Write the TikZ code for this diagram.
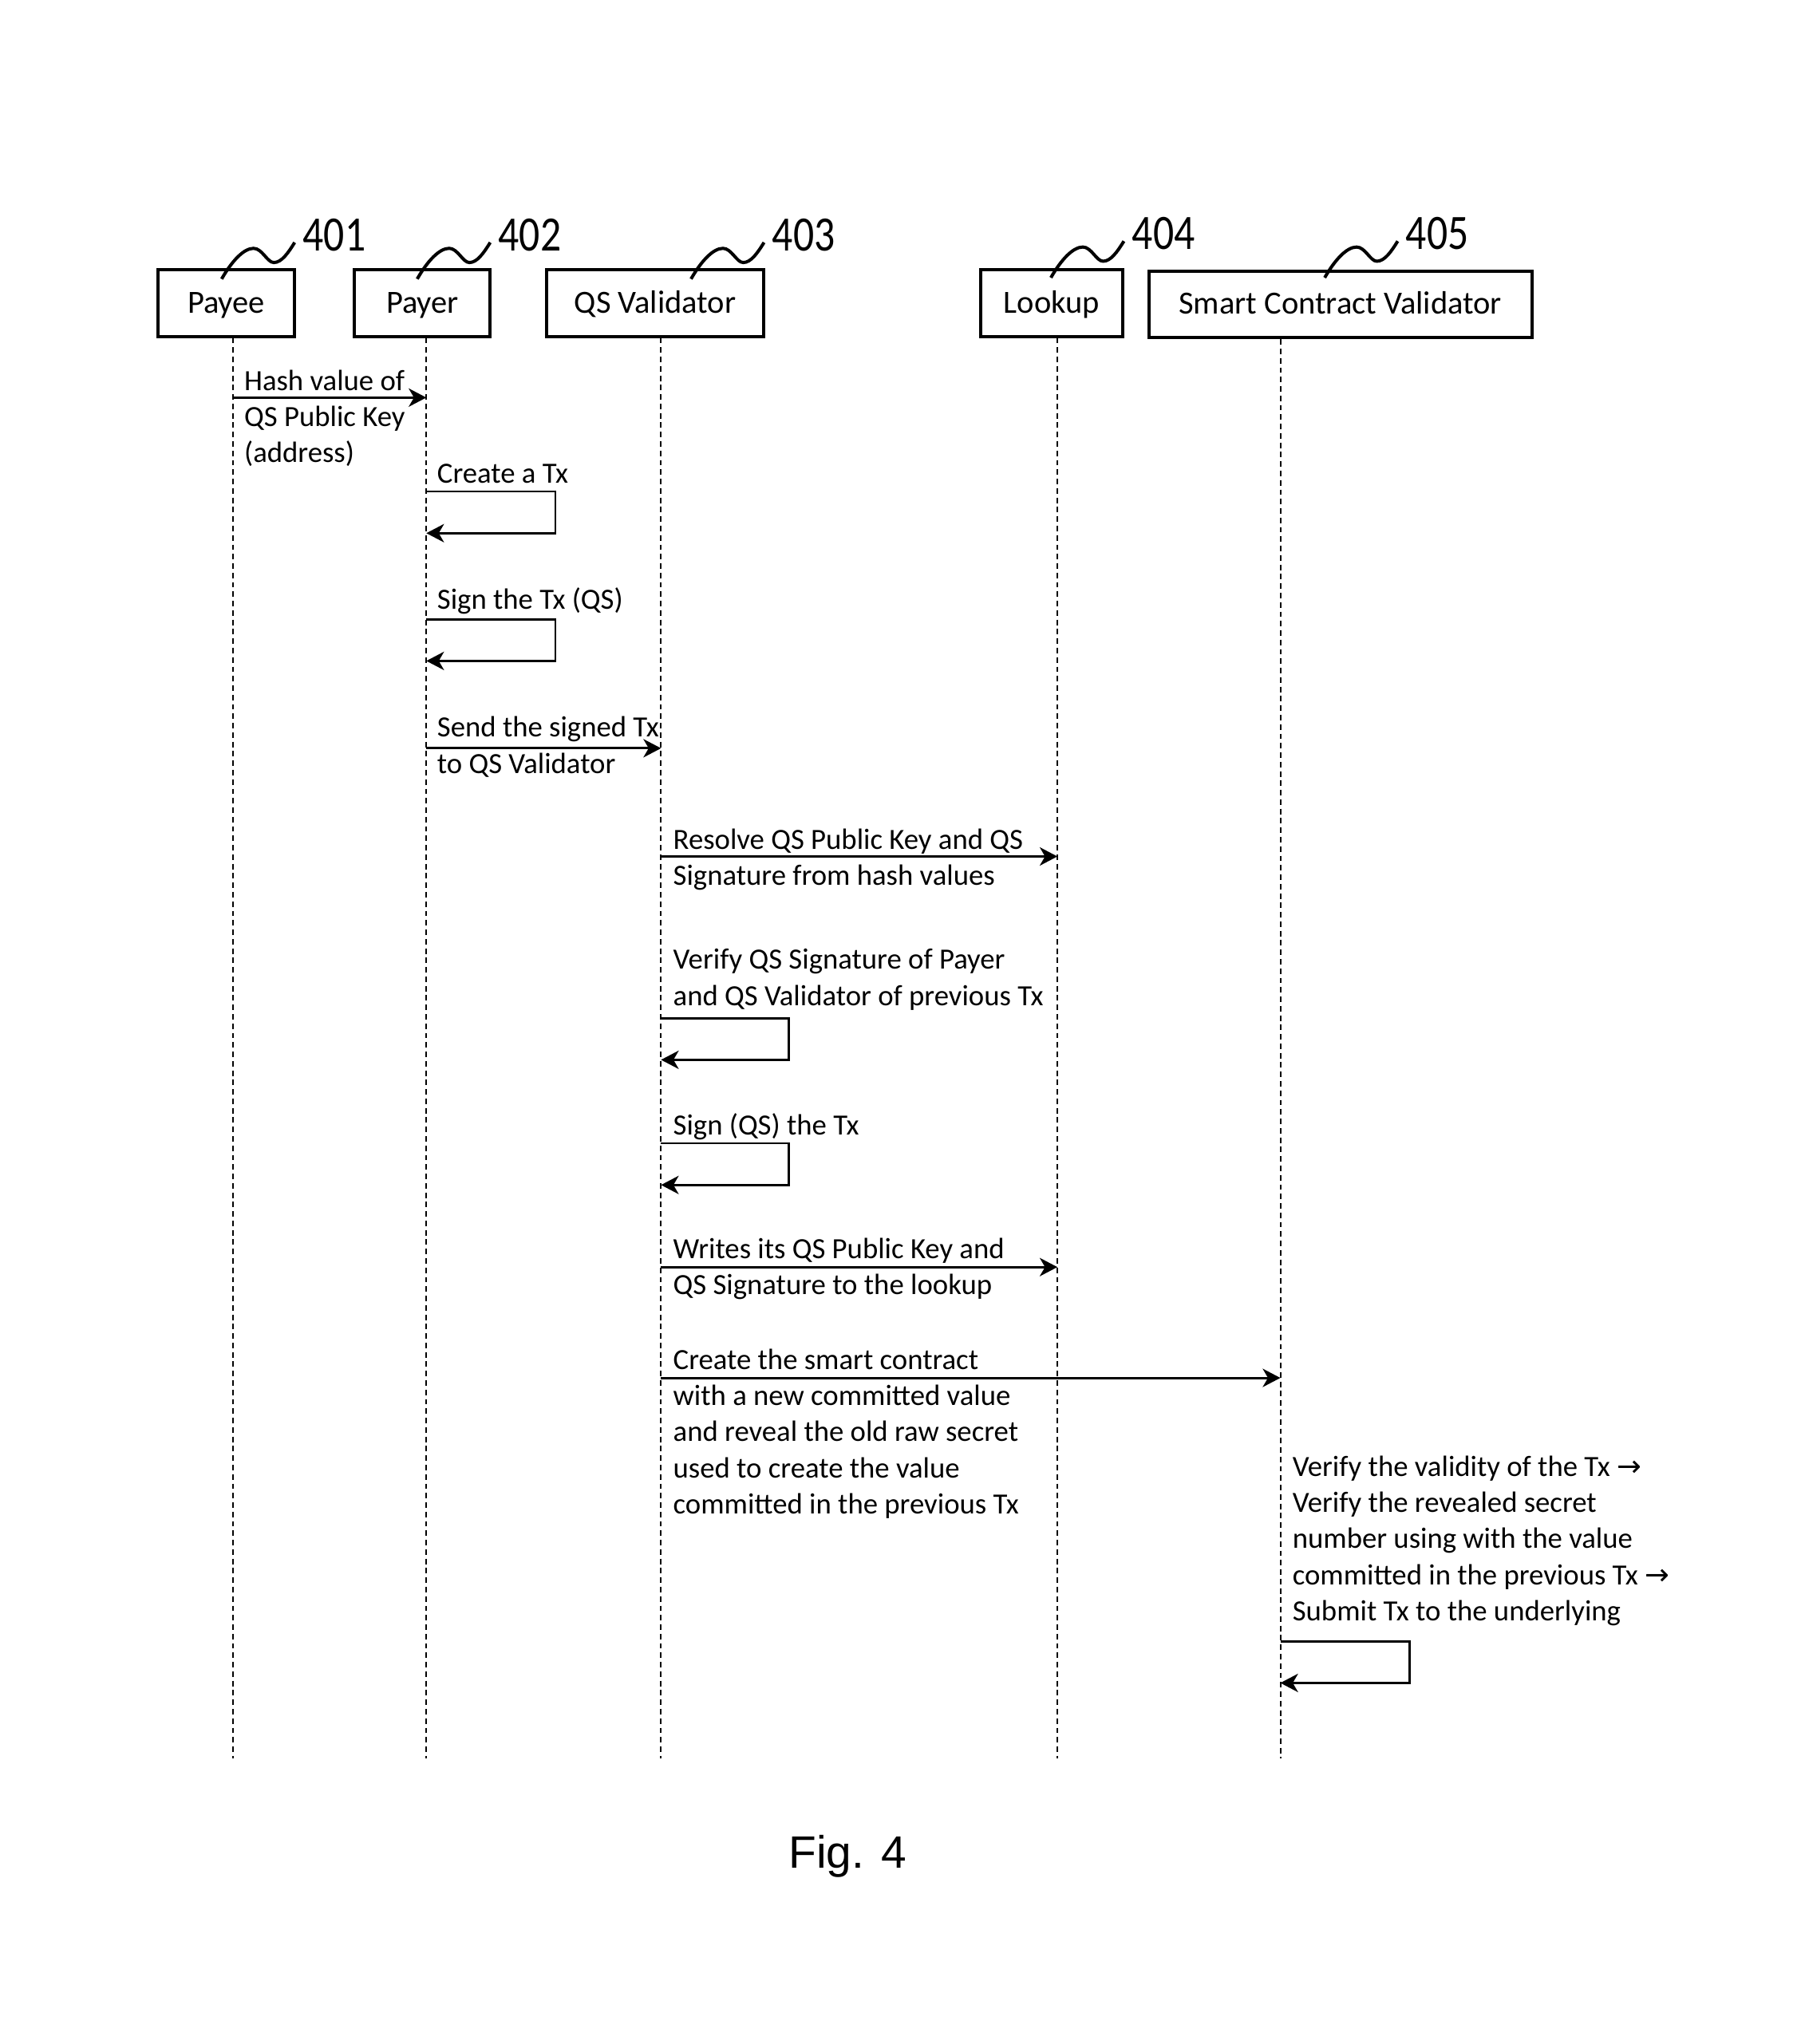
\documentclass[tikz,border=0pt]{standalone}
\usepackage{fontspec}
\setmainfont{Carlito}
\newfontfamily\arialf{Liberation Sans}
\newfontfamily\symf{DejaVu Sans}
\usetikzlibrary{arrows.meta}
\newcommand{\rarr}{{\symf\char"2192}}
\begin{document}
\begin{tikzpicture}[x=0.02cm,y=-0.02cm,
  actor/.style={draw, line width=1.4pt, minimum height=1.02cm, inner sep=0pt,
    text height=10pt, text depth=1.46pt,
    font=\fontsize{14.1pt}{17pt}\selectfont},
  life/.style={line width=0.7pt, dash pattern=on 2.4pt off 1.7pt},
  msg/.style={line width=1pt, -{Stealth[length=7.7pt,width=8pt,inset=2.3pt]}},
  lbl/.style={anchor=north west, inner sep=0pt, align=left,
    font=\fontsize{12.8pt}{15.8pt}\selectfont},
  refnum/.style={anchor=west, inner sep=0pt, font=\fontsize{18pt}{20pt}\selectfont},
  squig/.style={line width=1.4pt}]
\useasboundingbox (0,0) rectangle (1384,1568);

% actors
\node[actor, minimum width=2.10cm] (payee) at (173.5,232.5) {Payee};
\node[actor, minimum width=2.08cm] (payer) at (324,232.5) {Payer};
\node[actor, minimum width=3.34cm] (qsv) at (502.5,232.5) {QS Validator};
\node[actor, minimum width=2.18cm] (lookup) at (806.5,232.5) {Lookup};
\node[actor, minimum width=5.88cm] (scv) at (1028,233.5) {Smart Contract Validator};

% reference squiggles and numbers
\foreach \sx/\sy/\num/\nm in {170/214/401/r1, 320/214/402/r2, 530/214/403/r3, 806/213/404/r4, 1016/213/405/r5}{
  \draw[squig, shift={(\sx,\sy)}] (0,0) .. controls (8,-14) and (17,-23.5) .. (24.5,-23.5)
     .. controls (31,-23.5) and (35,-12.6) .. (40,-12.6)
     .. controls (46,-12.6) and (51,-20) .. (56,-28);
  \node[refnum] (\nm) at (\sx+62,\sy-34) {\scalebox{1}[1.2]{\num}};
}

% lifelines
\coordinate (bot) at (0,1349);
\coordinate (L1) at (179,0);
\coordinate (L2) at (327,0);
\coordinate (L3) at (507,0);
\coordinate (L4) at (811,0);
\coordinate (L5) at (982,0);
\draw[life] (payee.south -| L1) -- (bot -| L1);
\draw[life] (payer.south -| L2) -- (bot -| L2);
\draw[life] (qsv.south -| L3) -- (bot -| L3);
\draw[life] (lookup.south -| L4) -- (bot -| L4);
\draw[life] (scv.south -| L5) -- (bot -| L5);

% message 1
\coordinate (m1a) at (179,305); \coordinate (m1b) at (327,305);
\draw[msg] (m1a) -- (m1b);
\node[lbl] (t1) at (187,279.6) {\strut Hash value of\\QS Public Key\\(address)};

% self 2
\coordinate (s2a) at (327,377); \coordinate (s2b) at (426,409); \coordinate (s2c) at (327,409);
\draw[msg] (s2a) -| (s2b) -- (s2c);
\node[lbl] (t2) at (335,350.6) {\strut Create a Tx};

% self 3
\coordinate (s3a) at (327,475); \coordinate (s3b) at (426,507); \coordinate (s3c) at (327,507);
\draw[msg] (s3a) -| (s3b) -- (s3c);
\node[lbl] (t3) at (335,447.6) {\strut Sign the Tx (QS)};

% message 4
\coordinate (m4a) at (327,574); \coordinate (m4b) at (507,574);
\draw[msg] (m4a) -- (m4b);
\node[lbl] (t4) at (335,545.6) {\strut Send the signed Tx\\to QS Validator};

% message 5
\coordinate (m5a) at (507,657); \coordinate (m5b) at (811,657);
\draw[msg] (m5a) -- (m5b);
\node[lbl] (t5) at (516,631.6) {\strut Resolve QS Public Key and QS\\Signature from hash values};

% self 6
\coordinate (s6a) at (507,781); \coordinate (s6b) at (605,813); \coordinate (s6c) at (507,813);
\draw[msg] (s6a) -| (s6b) -- (s6c);
\node[lbl] (t6) at (516,723.6) {\strut Verify QS Signature of Payer\\and QS Validator of previous Tx};

% self 7
\coordinate (s7a) at (507,877); \coordinate (s7b) at (605,909); \coordinate (s7c) at (507,909);
\draw[msg] (s7a) -| (s7b) -- (s7c);
\node[lbl] (t7) at (516,850.6) {\strut Sign (QS) the Tx};

% message 8
\coordinate (m8a) at (507,972); \coordinate (m8b) at (811,972);
\draw[msg] (m8a) -- (m8b);
\node[lbl] (t8) at (516,945.6) {\strut Writes its QS Public Key and\\QS Signature to the lookup};

% message 9
\coordinate (m9a) at (507,1057); \coordinate (m9b) at (982,1057);
\draw[msg] (m9a) -- (m9b);
\node[lbl] (t9) at (516,1030.6) {\strut Create the smart contract\\with a new committed value\\and reveal the old raw secret\\used to create the value\\committed in the previous Tx};

% self 10
\coordinate (s10a) at (982,1259); \coordinate (s10b) at (1081,1291); \coordinate (s10c) at (982,1291);
\draw[msg] (s10a) -| (s10b) -- (s10c);
\node[lbl] (t10) at (991,1112.6) {\strut Verify the validity of the Tx \rarr\\Verify the revealed secret\\number using with the value\\committed in the previous Tx \rarr\\Submit Tx to the underlying};

% caption
\node[font=\arialf\fontsize{19.8pt}{24pt}\selectfont, inner sep=0pt] (fig) at (650,1424) {Fig. 4};
\end{tikzpicture}
\end{document}
